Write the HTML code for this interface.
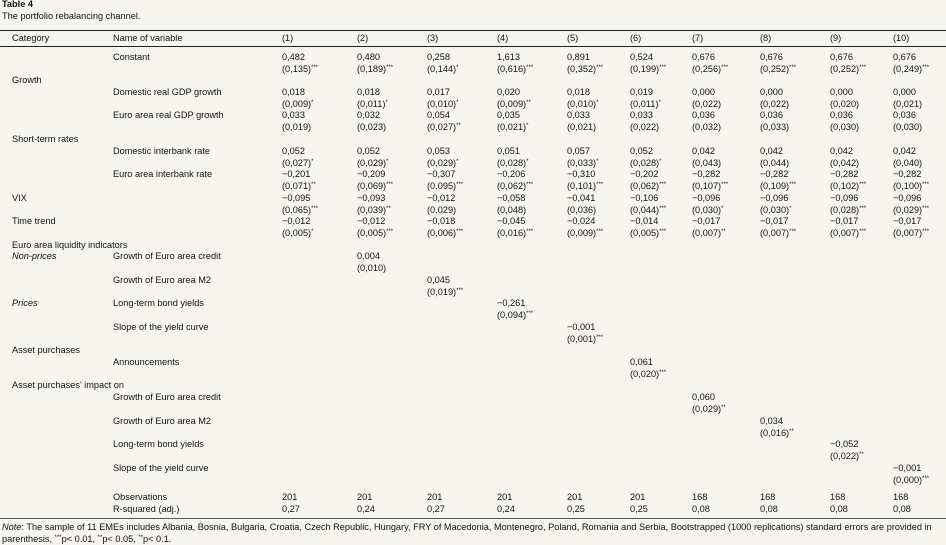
<!DOCTYPE html>
<html><head><meta charset="utf-8">
<style>
html,body{margin:0;padding:0;}
body{width:946px;height:545px;background:#f7f5f0;position:relative;overflow:hidden;font-family:"Liberation Sans",sans-serif;font-size:9.2px;color:#111;}
.t{position:absolute;white-space:nowrap;line-height:11px;}
.rule{position:absolute;left:0;width:946px;background:#222;}
sup{font-size:6px;vertical-align:3px;line-height:0;}
</style></head>
<body>
<div class="t" style="left:2px;top:-1px;font-weight:bold">Table 4</div>
<div class="t" style="left:2px;top:11px">The portfolio rebalancing channel.</div>
<div class="rule" style="top:30px;height:1px"></div>
<div class="rule" style="top:46px;height:1px"></div>
<div class="rule" style="top:518px;height:1px;background:#555"></div>
<div class="t" style="left:12px;top:33px">Category</div>
<div class="t" style="left:113px;top:33px">Name of variable</div>
<div id="tbl"></div>
<div class="t" style="left:2px;top:522px;font-size:9.2px"><i>Note</i>: The sample of 11 EMEs includes Albania, Bosnia, Bulgaria, Croatia, Czech Republic, Hungary, FRY of Macedonia, Montenegro, Poland, Romania and Serbia, Bootstrapped (1000 replications) standard errors are provided in</div>
<div class="t" style="left:2px;top:534px;font-size:9.2px">parenthesis, <sup>***</sup>p&lt; 0.01, <sup>**</sup>p&lt; 0.05, <sup>**</sup>p&lt; 0.1.</div>
<script>
const colLabels=["(1)","(2)","(3)","(4)","(5)","(6)","(7)","(8)","(9)","(10)"];
const colX=[282,357,427,497,567,630,692,760,830,893];
const E="";
// rows: [top, category, categoryItalic, name, coefs, ses]
const rows=[
[52,"",0,"Constant",["0,482","0,480","0,258","1,613","0,891","0,524","0,676","0,676","0,676","0,676"],["(0,135)***","(0,189)***","(0,144)*","(0,616)***","(0,352)***","(0,199)***","(0,256)***","(0,252)***","(0,252)***","(0,249)***"]],
[75,"Growth",0,"",[],[]],
[87,"",0,"Domestic real GDP growth",["0,018","0,018","0,017","0,020","0,018","0,019","0,000","0,000","0,000","0,000"],["(0,009)*","(0,011)*","(0,010)*","(0,009)**","(0,010)*","(0,011)*","(0,022)","(0,022)","(0,020)","(0,021)"]],
[110,"",0,"Euro area real GDP growth",["0,033","0,032","0,054","0,035","0,033","0,033","0,036","0,036","0,036","0,036"],["(0,019)","(0,023)","(0,027)**","(0,021)*","(0,021)","(0,022)","(0,032)","(0,033)","(0,030)","(0,030)"]],
[134,"Short-term rates",0,"",[],[]],
[146,"",0,"Domestic interbank rate",["0,052","0,052","0,053","0,051","0,057","0,052","0,042","0,042","0,042","0,042"],["(0,027)*","(0,029)*","(0,029)*","(0,028)*","(0,033)*","(0,028)*","(0,043)","(0,044)","(0,042)","(0,040)"]],
[169,"",0,"Euro area interbank rate",["\u22120,201","\u22120,209","\u22120,307","\u22120,206","\u22120,310","\u22120,202","\u22120,282","\u22120,282","\u22120,282","\u22120,282"],["(0,071)**","(0,069)***","(0,095)***","(0,062)***","(0,101)***","(0,062)***","(0,107)***","(0,109)***","(0,102)***","(0,100)***"]],
[193,"VIX",0,"",["\u22120,095","\u22120,093","\u22120,012","\u22120,058","\u22120,041","\u22120,106","\u22120,096","\u22120,096","\u22120,096","\u22120,096"],["(0,065)***","(0,039)**","(0,029)","(0,048)","(0,036)","(0,044)***","(0,030)*","(0,030)*","(0,028)***","(0,029)***"]],
[216,"Time trend",0,"",["\u22120,012","\u22120,012","\u22120,018","\u22120,045","\u22120,024","\u22120,014","\u22120,017","\u22120,017","\u22120,017","\u22120,017"],["(0,005)*","(0,005)***","(0,006)***","(0,016)***","(0,009)***","(0,005)***","(0,007)**","(0,007)***","(0,007)***","(0,007)***"]],
[240,"Euro area liquidity indicators",0,"",[],[]],
[251,"Non-prices",1,"Growth of Euro area credit",[E,"0,004"],[E,"(0,010)"]],
[275,"",0,"Growth of Euro area M2",[E,E,"0,045"],[E,E,"(0,019)***"]],
[298,"Prices",1,"Long-term bond yields",[E,E,E,"\u22120,261"],[E,E,E,"(0,094)***"]],
[322,"",0,"Slope of the yield curve",[E,E,E,E,"\u22120,001"],[E,E,E,E,"(0,001)***"]],
[345,"Asset purchases",0,"",[],[]],
[357,"",0,"Announcements",[E,E,E,E,E,"0,061"],[E,E,E,E,E,"(0,020)***"]],
[380,"Asset purchases\u2019 impact on",0,"",[],[]],
[392,"",0,"Growth of Euro area credit",[E,E,E,E,E,E,"0,060"],[E,E,E,E,E,E,"(0,029)**"]],
[416,"",0,"Growth of Euro area M2",[E,E,E,E,E,E,E,"0,034"],[E,E,E,E,E,E,E,"(0,016)**"]],
[439,"",0,"Long-term bond yields",[E,E,E,E,E,E,E,E,"\u22120,052"],[E,E,E,E,E,E,E,E,"(0,022)**"]],
[463,"",0,"Slope of the yield curve",[E,E,E,E,E,E,E,E,E,"\u22120,001"],[E,E,E,E,E,E,E,E,E,"(0,000)***"]],
[492,"",0,"Observations",["201","201","201","201","201","201","168","168","168","168"],[]],
[504,"",0,"R-squared (adj.)",["0,27","0,24","0,27","0,24","0,25","0,25","0,08","0,08","0,08","0,08"],[]]
];
const tbl=document.getElementById('tbl');
function add(x,y,html,name,style){
  const d=document.createElement('div');
  d.className='t';
  d.style.left=x+'px';d.style.top=y+'px';
  if(style)d.style.cssText+=style;
  d.innerHTML=html;
  
  
  tbl.appendChild(d);
}
function fmt(s){return s.replace(/(\*+)$/,'<sup>$1</sup>');}
colLabels.forEach((c,i)=>add(colX[i],33,c,'column-header-'+(i+1)));
rows.forEach((r,ri)=>{
  const [y,cat,it,name,co,se]=r;
  if(cat)add(12,y,cat,'category-label',it?'font-style:italic':'');
  if(name)add(113,y,name,'variable-label');
  co.forEach((v,i)=>{if(v)add(colX[i],y,fmt(v),'coefficient-cell');});
  se.forEach((v,i)=>{if(v)add(colX[i],y+12,fmt(v),'std-error-cell');});
});
</script>
</body></html>
